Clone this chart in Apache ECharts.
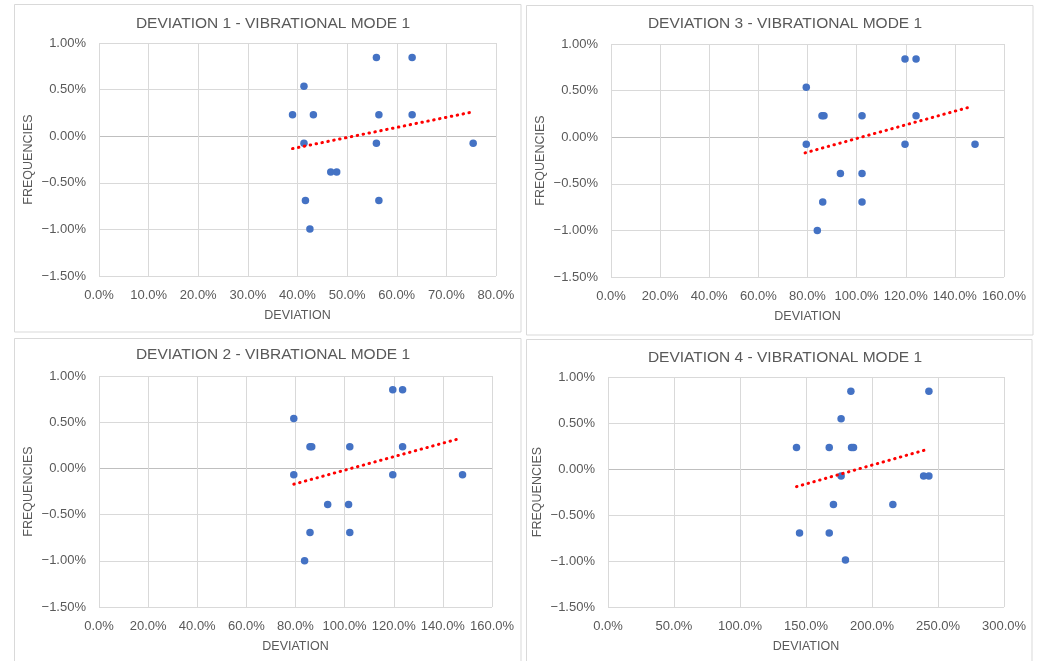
<!DOCTYPE html>
<html>
<head>
<meta charset="utf-8">
<script src="https://cdn.jsdelivr.net/npm/echarts@6/dist/echarts.min.js"></script>
<style>
html,body{margin:0;padding:0;background:#fff;}
#c{width:1041px;height:661px;}
</style>
</head>
<body>
<div id="c"></div>
<script>
// ---- data (x = deviation %, y = frequency %) ----
const titles = [
  'DEVIATION 1 - VIBRATIONAL MODE 1',
  'DEVIATION 3 - VIBRATIONAL MODE 1',
  'DEVIATION 2 - VIBRATIONAL MODE 1',
  'DEVIATION 4 - VIBRATIONAL MODE 1'
];
const dev1 = [[55.9,0.845],[63.1,0.845],[41.3,0.535],[39.0,0.23],[43.2,0.23],[56.4,0.23],[63.1,0.23],[41.3,-0.075],[55.9,-0.075],[75.4,-0.075],[46.7,-0.385],[47.9,-0.385],[41.6,-0.69],[56.4,-0.69],[42.5,-0.995]];
const trend1 = [[39.0,-0.133],[75.4,0.261]];
const dev3 = [[119.7,0.84],[124.2,0.84],[79.5,0.535],[85.9,0.23],[86.7,0.23],[102.2,0.23],[124.2,0.23],[79.5,-0.075],[119.7,-0.075],[148.2,-0.075],[93.4,-0.39],[102.2,-0.39],[86.2,-0.695],[102.2,-0.695],[84.0,-1.0]];
const trend3 = [[79.0,-0.168],[146.8,0.329]];
const dev2 = [[119.6,0.85],[123.6,0.85],[79.3,0.54],[85.9,0.235],[86.6,0.235],[102.1,0.235],[123.6,0.235],[79.3,-0.07],[119.6,-0.07],[148.0,-0.07],[93.1,-0.39],[101.6,-0.39],[85.9,-0.695],[102.1,-0.695],[83.7,-1.0]];
const trend2 = [[79.3,-0.171],[147.1,0.325]];
const dev4 = [[184.0,0.845],[243.1,0.845],[176.6,0.545],[142.8,0.235],[167.6,0.235],[184.5,0.235],[186.0,0.235],[176.6,-0.075],[239.1,-0.075],[243.1,-0.075],[170.8,-0.385],[215.8,-0.385],[145.1,-0.695],[167.6,-0.695],[179.9,-0.99]];
const trend4 = [[142.8,-0.192],[239.6,0.204]];
const xMax = [80, 160, 160, 300];
const xStep = [10, 20, 20, 50];
const yMin = -1.5, yMax = 1.0, yStep = 0.5;
const xName = 'DEVIATION';
const yName = 'FREQUENCIES';

const points = [dev1, dev3, dev2, dev4];
const trends = [trend1, trend3, trend2, trend4];

// ---- layout ----
const grids = [
  {left: 99, top: 43, width: 397, height: 233},
  {left: 611, top: 44, width: 393, height: 233},
  {left: 99, top: 376, width: 393, height: 231},
  {left: 608, top: 377, width: 396, height: 230}
];
const titlePos = [[268, 11], [780, 11], [268, 342], [780, 345]];
const boxes = [
  [14.5, 4.5, 506.5, 327.5],
  [526.5, 5.5, 506.5, 329.5],
  [14.5, 338.5, 506.5, 340],
  [526.5, 339.5, 505.5, 340]
];

const FONT = '"Liberation Sans", Arial, sans-serif';
const GREY = '#595959';
const fmtSign = s => s.replace('-', '\u2212');

const option = {
  backgroundColor: '#ffffff',
  animation: false,
  title: titles.map((t, i) => ({
    text: t,
    left: titlePos[i][0],
    top: titlePos[i][1],
    textAlign: 'center',
    textStyle: {fontFamily: FONT, fontSize: 15.5, fontWeight: 'normal', color: GREY}
  })),
  graphic: boxes.map(b => ({
    type: 'rect', silent: true, z: -1,
    shape: {x: b[0], y: b[1], width: b[2], height: b[3]},
    style: {fill: null, stroke: '#D9D9D9', lineWidth: 1}
  })),
  grid: grids,
  xAxis: grids.map((g, i) => ({
    type: 'value', gridIndex: i, min: 0, max: xMax[i], interval: xStep[i],
    name: xName, nameLocation: 'middle', nameGap: 33,
    nameTextStyle: {fontFamily: FONT, fontSize: 12.5, color: GREY},
    axisLine: {show: false}, axisTick: {show: false},
    axisLabel: {fontFamily: FONT, fontSize: 13, color: GREY, margin: 13,
      formatter: v => v.toFixed(1) + '%'},
    splitLine: {show: true, lineStyle: {color: '#D9D9D9', width: 1}}
  })),
  yAxis: grids.map((g, i) => ({
    type: 'value', gridIndex: i, min: yMin, max: yMax, interval: yStep,
    name: yName, nameLocation: 'middle', nameGap: 64,
    nameTextStyle: {fontFamily: FONT, fontSize: 12.5, color: GREY},
    axisLine: {show: false}, axisTick: {show: false},
    axisLabel: {fontFamily: FONT, fontSize: 13, color: GREY, margin: 13,
      formatter: v => fmtSign(v.toFixed(2)) + '%'},
    splitLine: {show: true, lineStyle: {
      color: ['#D9D9D9', '#D9D9D9', '#D9D9D9', '#BFBFBF', '#D9D9D9', '#D9D9D9'], width: 1}}
  })),
  series: []
};

points.forEach((p, i) => {
  option.series.push({
    type: 'line', xAxisIndex: i, yAxisIndex: i, data: trends[i],
    showSymbol: false, symbol: 'none', silent: true, z: 3,
    lineStyle: {color: '#FF0000', width: 3, type: [0.5, 5.5], cap: 'round'}
  });
  option.series.push({
    type: 'scatter', xAxisIndex: i, yAxisIndex: i, data: p,
    symbol: 'circle', symbolSize: 7.5, z: 2,
    itemStyle: {color: '#4472C4', opacity: 1}
  });
});

const chart = echarts.init(document.getElementById('c'), null, {renderer: 'canvas'});
chart.setOption(option);
</script>
</body>
</html>
